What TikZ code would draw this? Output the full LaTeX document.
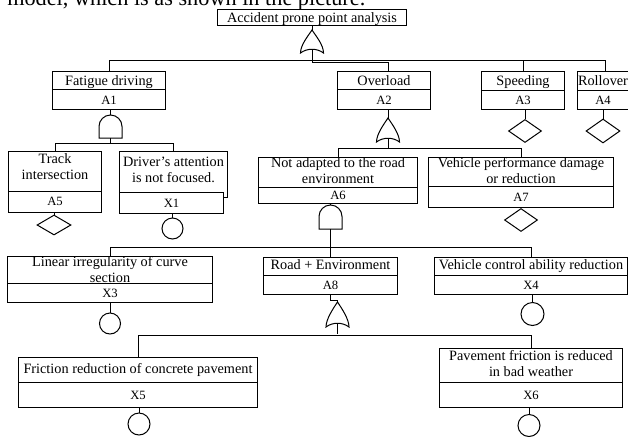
\documentclass[tikz,border=0pt]{standalone}
\usepackage{fontspec}
\setmainfont{Liberation Serif}
\usetikzlibrary{shapes.geometric}
\tikzset{
  ln/.style={line width=0.75pt},
  rect/.style={draw, fill=white, line width=0.75pt, inner sep=0pt, anchor=north west},
  lbl/.style={font=\fontsize{10.7}{12}\selectfont, align=center, inner sep=0pt, anchor=base},
  idl/.style={font=\fontsize{9.5}{12}\selectfont, inner sep=0pt, anchor=base},
  gateline/.style={draw, fill=white, line width=0.75pt},
  evdiamond/.style={diamond, draw, fill=white, line width=0.75pt, inner sep=0pt},
  evcircle/.style={circle, draw, fill=white, line width=0.75pt, inner sep=0pt},
}
% event box: name, x1, y1, ymid, x2, y2
\newcommand\evbox[6]{%
  \node[rect, minimum width={(#5-#2)*0.75pt}, minimum height={(#4-#3)*0.75pt}] (#1t) at (#2,#3) {};
  \node[rect, minimum width={(#5-#2)*0.75pt}, minimum height={(#6-#4)*0.75pt}] (#1) at (#2,#4) {};
}
% OR gate: name, cx, top, bottom
\newcommand\orgate[4]{%
  \coordinate (#1top) at (#2,#3);
  \coordinate (#1bot) at (#2,{#4-4});
  \draw[gateline] (#2,#3) .. controls ({#2-4},{#3+6}) and ({#2-11.5},{#4-8}) .. ({#2-11.5},#4)
     .. controls ({#2-5},{#4-5}) and ({#2+5},{#4-5}) .. ({#2+11.5},#4)
     .. controls ({#2+11.5},{#4-8}) and ({#2+4},{#3+6}) .. (#2,#3) -- cycle;
}
% AND gate: name, cx, top, bottom
\newcommand\andgate[4]{%
  \coordinate (#1top) at (#2,#3);
  \coordinate (#1bot) at (#2,#4);
  \draw[gateline] ({#2-11.5},#4) -- ({#2-11.5},{#3+11.5})
     .. controls ({#2-11.5},{#3+5.15}) and ({#2-6.35},#3) .. (#2,#3)
     .. controls ({#2+6.35},#3) and ({#2+11.5},{#3+5.15}) .. ({#2+11.5},{#3+11.5})
     -- ({#2+11.5},#4) -- cycle;
}
\begin{document}
\begin{tikzpicture}[x=0.75pt, y=-0.75pt]
\clip (0,0) rectangle (628,436);
\fill[white] (0,0) rectangle (628,436);

% cropped caption line
\node[anchor=base west, font=\fontsize{16.7}{20}\selectfont, inner sep=0pt] (cap) at (7,5) {model, which is as shown in the picture.};

% top event
\node[rect, minimum width={189*0.75pt}, minimum height={16*0.75pt}] (T) at (217,9) {};
\node[lbl] (Tl) at (T.center |- 0,22) {Accident prone point analysis};

% boxes
\evbox{A1}{52}{71}{89}{165}{109}
\evbox{A2}{337}{71}{89}{430}{109}
\evbox{A3}{481}{71}{90}{564}{109}
\evbox{A4}{577}{71}{90}{632}{109}
\evbox{A5}{8}{151}{191}{101}{212}
\node[rect, minimum width={108*0.75pt}, minimum height={46*0.75pt}] (X1t) at (119,151) {};
\node[rect, minimum width={104*0.75pt}, minimum height={21*0.75pt}] (X1) at (119,192) {};
\evbox{A6}{258}{157}{187}{417}{203}
\evbox{A7}{428}{157}{186}{613}{207}
\evbox{X3}{7}{256}{283}{212}{302}
\evbox{A8}{263}{257}{275}{397}{294}
\evbox{X4}{434}{257}{275}{627}{294}
\evbox{X5}{18}{357}{382}{257}{407}
\evbox{X6}{439}{348}{382}{622}{407}

% labels (multi-line: base = last line)
\node[lbl] (A1l) at (A1t.center |- 0,85) {Fatigue driving};
\node[idl] (A1i) at (A1.center |- 0,104) {A1};
\node[lbl] (A2l) at (A2t.center |- 0,85) {Overload};
\node[idl] (A2i) at (A2.center |- 0,104) {A2};
\node[lbl] (A3l) at (A3t.center |- 0,85) {Speeding};
\node[idl] (A3i) at (A3.center |- 0,104) {A3};
\node[lbl] (A4l) at (603,85) {Rollover};
\node[idl] (A4i) at (603,104) {A4};
\node[lbl] (A5l) at (A5t.center |- 0,179) {Track\\intersection};
\node[idl] (A5i) at (A5.center |- 0,205) {A5};
\node[lbl] (X1l) at (X1t.center |- 0,182) {Driver's attention\\is not focused.};
\node[idl] (X1i) at (X1.center |- 0,207) {X1};
\node[lbl] (A6l) at (A6t.center |- 0,183) {Not adapted to the road\\environment};
\node[idl] (A6i) at (A6.center |- 0,199) {A6};
\node[lbl] (A7l) at (A7t.center |- 0,183) {Vehicle performance damage\\or reduction};
\node[idl] (A7i) at (A7.center |- 0,201) {A7};
\node[lbl] (X3l) at (X3t.center |- 0,282) {Linear irregularity of curve\\section};
\node[idl] (X3i) at (X3.center |- 0,297) {X3};
\node[lbl] (A8l) at (A8t.center |- 0,269.5) {Road + Environment};
\node[idl] (A8i) at (A8.center |- 0,289) {A8};
\node[lbl] (X4l) at (X4t.center |- 0,269.5) {Vehicle control ability reduction};
\node[idl] (X4i) at (X4.center |- 0,289) {X4};
\node[lbl] (X5l) at (X5t.center |- 0,373.5) {Friction reduction of concrete pavement};
\node[idl] (X5i) at (X5.center |- 0,399) {X5};
\node[lbl] (X6l) at (X6t.center |- 0,376) {Pavement friction is reduced\\in bad weather};
\node[idl] (X6i) at (X6.center |- 0,399) {X6};

% gates
\orgate{g0}{312}{30}{53}
\andgate{g1}{110.5}{115}{138}
\orgate{g2}{388}{118}{142}
\andgate{g6}{330.5}{205}{229}
\orgate{g8}{337.5}{302}{327}

% basic / undeveloped events
\node[evdiamond, minimum width={33*0.75pt}, minimum height={23*0.75pt}] (d3) at (525,131) {};
\node[evdiamond, minimum width={34*0.75pt}, minimum height={24*0.75pt}] (d4) at (603,131) {};
\node[evdiamond, minimum width={34*0.75pt}, minimum height={20*0.75pt}] (d5) at (54,225) {};
\node[evdiamond, minimum width={33*0.75pt}, minimum height={23*0.75pt}] (d7) at (521,220) {};
\node[evcircle, minimum size={21*0.75pt}] (c1) at (172.5,228.5) {};
\node[evcircle, minimum size={21*0.75pt}] (c3) at (110,323.5) {};
\node[evcircle, minimum size={23*0.75pt}] (c4) at (532.5,314) {};
\node[evcircle, minimum size={22*0.75pt}] (c5) at (139,424) {};
\node[evcircle, minimum size={22*0.75pt}] (c6) at (529,425.5) {};

% connectors
\draw[ln] (g0top |- T.south) -- (g0top);
\draw[ln] (A1t.north) -- ++(0,-11) -| (A4t.north);
\draw[ln] (A3t.north) -- ++(0,-11);
\draw[ln] (g0bot) -- ++(0,13) -| (g2top |- A2t.north);
\draw[ln] (g2top |- A2.south) -- (g2top);
\draw[ln] (d3.north |- A3.south) -- (d3.north);
\draw[ln] (d4.north |- A4.south) -- (d4.north);
\draw[ln] (g1top |- A1.south) -- (g1top);
\draw[ln] (g1bot) -- ++(0,5);
\draw[ln] (A5t.north) -- ++(0,-8) -| (X1t.north);
\draw[ln] (d5.north |- A5.south) -- (d5.north);
\draw[ln] (c1.north |- X1.south) -- (c1.north);
\draw[ln] (g2bot) -- ++(0,10);
\draw[ln] (A6t.north) -- ++(0,-9) -| (A7t.north);
\draw[ln] (g6top |- A6.south) -- (g6top);
\draw[ln] (d7.north |- A7.south) -- (d7.north);
\draw[ln] (g6bot) -- (g6bot |- A8t.north);
\draw[ln] (X3t.north) -- ++(0,-9) -| (X4t.north);
\draw[ln] (c3.north |- X3.south) -- (c3.north);
\draw[ln] (c4.north |- X4.south) -- (c4.north);
\draw[ln] (A8.south) -- ++(0,5) -| (g8top);
\draw[ln] (g8bot) -- ++(0,11);
\draw[ln] (X5t.north) -- ++(0,-22) -| (X6t.north);
\draw[ln] (c5.north |- X5.south) -- (c5.north);
\draw[ln] (c6.north |- X6.south) -- (c6.north);
\end{tikzpicture}
\end{document}
